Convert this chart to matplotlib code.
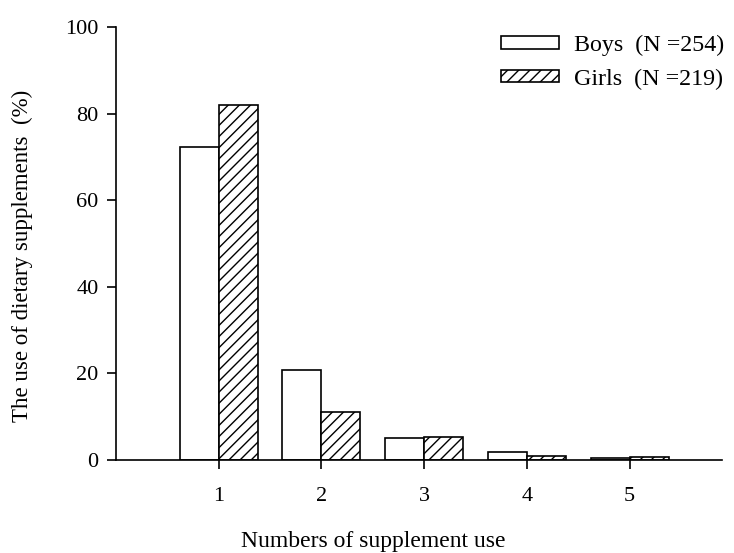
import matplotlib.pyplot as plt
import numpy as np

plt.rcParams['font.family'] = ['Liberation Serif', 'DejaVu Serif']
plt.rcParams['hatch.linewidth'] = 1.0

categories = [1, 2, 3, 4, 5]
boys = [72.3, 20.9, 5.0, 1.8, 0.4]
girls = [82.0, 11.2, 5.4, 1.0, 0.8]
boys_label = "Boys  (N =254)"
girls_label = "Girls  (N =219)"

W, H = 734, 553
fig = plt.figure(figsize=(W / 100, H / 100), dpi=100)
ax = fig.add_axes([116 / W, 1 - 460 / H, (722 - 116) / W, (460 - 27) / H])

x = np.array(categories)
width = 0.38
ax.bar(x - width / 2, boys, width, facecolor="white", edgecolor="black",
       linewidth=1.2, label=boys_label)
ax.bar(x + width / 2, girls, width, facecolor="white", edgecolor="black",
       hatch="///", linewidth=1.2, label=girls_label)

ax.set_xlim(0, 5.9)
ax.set_ylim(0, 100)
ax.set_xticks(categories)
ax.set_yticks([0, 20, 40, 60, 80, 100])
ax.spines["top"].set_visible(False)
ax.spines["right"].set_visible(False)
ax.spines["left"].set_linewidth(1.2)
ax.spines["bottom"].set_linewidth(1.2)
ax.tick_params(axis="both", labelsize=16, width=1.2, length=6.5, direction="out")
ax.tick_params(axis="y", pad=6)
ax.tick_params(axis="x", pad=13)

fig.text(373 / W, 1 - 541 / H, "Numbers of supplement use", fontsize=17,
         ha="center", va="center")
fig.text(22 / W, 1 - 256 / H, "The use of dietary supplements  (%)", fontsize=16.5,
         ha="center", va="center", rotation=90)

ax.legend(loc="upper left", bbox_to_anchor=(501 / W, 1 - 35 / H),
          bbox_transform=fig.transFigure, frameon=False, fontsize=17.3,
          handlelength=2.42, handleheight=0.42, handletextpad=0.6,
          borderpad=0, borderaxespad=0, labelspacing=0.52)

fig.savefig("out.png", dpi=100)
